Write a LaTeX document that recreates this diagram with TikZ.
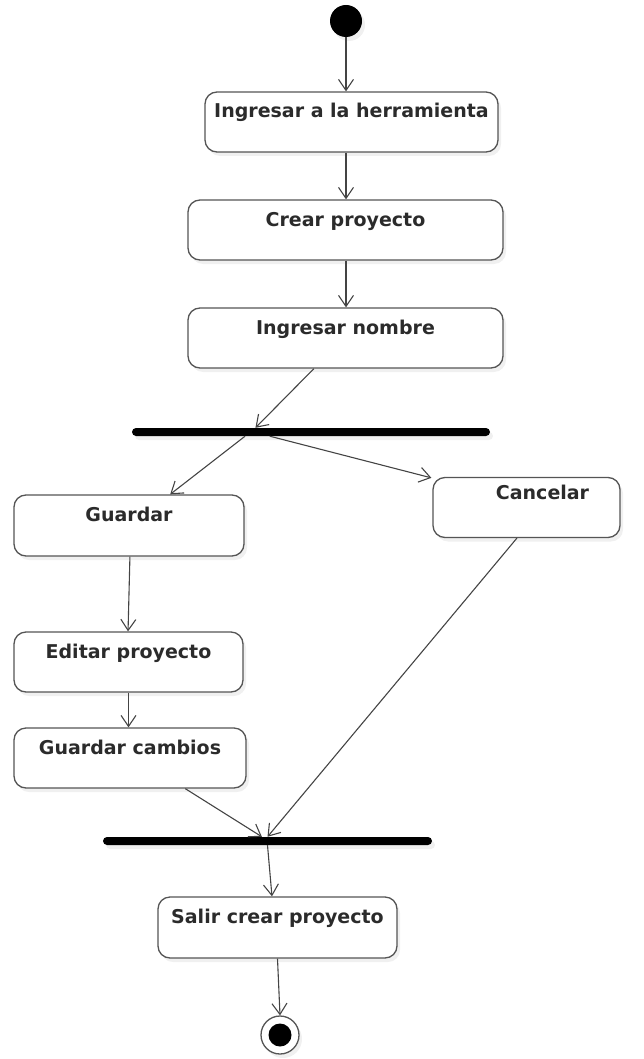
\documentclass[tikz,border=0pt]{standalone}
\usepackage{fontspec}
\setmainfont{DejaVu Sans}
\usetikzlibrary{arrows.meta,calc,shadows}
\definecolor{ink}{HTML}{2B2B2B}
\definecolor{edge}{HTML}{555555}
\definecolor{wire}{HTML}{444444}
\tikzset{
  softshadow/.style={drop shadow={shadow xshift=3pt,shadow yshift=-4pt,opacity=0.12}},
  action/.style={draw=edge, line width=1.3pt, fill=white, rounded corners=12pt,
    softshadow, inner xsep=0pt, inner ysep=0pt,
    text height=26pt, text depth=34pt, text=ink,
    font=\fontsize{19}{22}\selectfont\bfseries},
  bar/.style={fill=black, rounded corners=4pt, minimum height=8pt, inner sep=0pt, softshadow},
  flow/.style={draw=wire, line width=1.1pt, -{Straight Barb[length=11pt,width=15pt,line width=1.1pt]}},
}
\begin{document}
\begin{tikzpicture}[x=1pt,y=-1pt]
\useasboundingbox (0,0) rectangle (644,1059);

% initial state
\node[circle, fill=black, minimum size=32pt, inner sep=0pt, softshadow] (start) at (346,21) {};

% actions
\node[action, minimum width=293pt] (b1) at (351.5,122) {Ingresar a la herramienta};
\node[action, minimum width=315pt] (b2) at (345.5,230) {Crear proyecto};
\node[action, minimum width=315pt] (b3) at (345.5,338) {Ingresar nombre};
\node[bar, minimum width=358pt] (fork) at (311,432) {};
\node[action, minimum width=230pt, minimum height=61pt, text depth=35pt] (guardar) at (129,525.5) {Guardar};
\node[action, minimum width=187pt, text height=22pt, text depth=38pt] (cancelar) at (526.5,507.5) {\hspace*{32pt}Cancelar};
\node[action, minimum width=229pt] (editar) at (128.5,662) {Editar proyecto};
\node[action, minimum width=232pt] (cambios) at (130,758) {Guardar cambios};
\node[bar, minimum width=329pt] (join) at (267.5,841) {};
\node[action, minimum width=239pt, minimum height=61pt, text depth=35pt] (salir) at (277.5,927.5) {Salir crear proyecto};

% final state
\node[circle, draw=edge, line width=1.3pt, fill=white, minimum size=38pt, inner sep=0pt, softshadow] (stop) at (280,1035) {};
\node[circle, fill=black, minimum size=23pt, inner sep=0pt] (stopcore) at (stop.center) {};

% transitions
\draw[flow] (start) -- (start |- b1.north);
\draw[flow] (b1.south -| start) -- (b2.north -| start);
\draw[flow] (b2.south -| start) -- (b3.north -| start);
\draw[flow] ($(b3.south west)!0.4!(b3.south east)$) -- ($(fork.north west)!0.345!(fork.north east)$);
\draw[flow] ($(fork.south west)!0.316!(fork.south east)$) -- ($(guardar.north west)!0.678!(guardar.north east)$);
\draw[flow] ($(fork.south west)!0.385!(fork.south east)$) -- ($(cancelar.north west)+(-1,1)$);
\draw[flow] ($(guardar.south west)!0.504!(guardar.south east)$) -- ($(editar.north west)!0.498!(editar.north east)$);
\draw[flow] (editar.south) -- (editar.south |- cambios.north);
\draw[flow] ($(cambios.south west)!0.737!(cambios.south east)$) -- ($(join.north west)!0.483!(join.north east)$);
\draw[flow] ($(cancelar.south west)!0.449!(cancelar.south east)$) -- ($(join.north west)!0.5!(join.north east)$);
\draw[flow] ($(join.south west)!0.5!(join.south east)$) -- ($(salir.north west)!0.477!(salir.north east)$);
\draw[flow] ($(salir.south west)!0.5!(salir.south east)$) -- (stop.north);
\end{tikzpicture}
\end{document}
